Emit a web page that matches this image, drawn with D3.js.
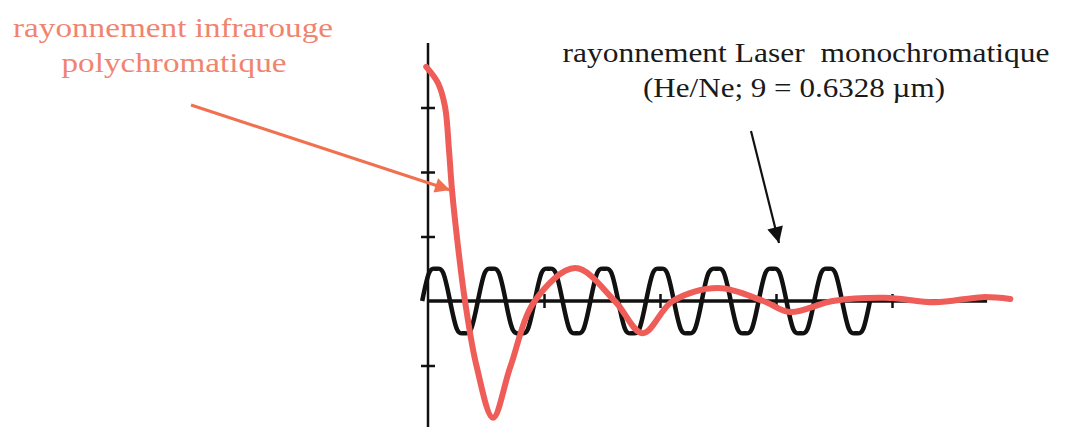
<!DOCTYPE html>
<html>
<head>
<meta charset="utf-8">
<script src="https://cdn.jsdelivr.net/npm/d3@7"></script>
<style>
  html, body { margin: 0; padding: 0; background: #fff; }
  svg { display: block; }
</style>
</head>
<body>
<script>
const width = 1068;
const height = 427;

// interferogram of the polychromatic infrared source
const irX = [-0.015, 0.086, 0.147, 0.181, 0.207, 0.259, 0.319, 0.42, 0.56, 0.71, 0.92, 1.27, 1.61, 1.85, 2.11, 2.5, 2.89, 3.12, 3.49, 3.94, 4.37, 4.78, 5.02];
const irY = [3.63, 3.38, 3.01, 2.34, 1.72, 0.84, 0, -1.02, -1.81, -1.02, 0, 0.51, 0, -0.5, 0, 0.2, 0, -0.17, 0, 0.05, -0.02, 0.06, 0.03];

// He/Ne laser signal: crossings, shoulders, crests and troughs
const laserX = [-0.05, 0.01, 0.07, 0.13, 0.19, 0.25, 0.31, 0.37, 0.43, 0.49, 0.55, 0.61, 0.67, 0.73, 0.8, 0.86,
                0.92, 0.98, 1.04, 1.1, 1.16, 1.22, 1.28, 1.34, 1.4, 1.46, 1.52, 1.58, 1.64, 1.7, 1.76, 1.82,
                1.88, 1.94, 2.0, 2.06, 2.12, 2.18, 2.24, 2.3, 2.36, 2.42, 2.49, 2.55, 2.61, 2.67, 2.73, 2.79,
                2.85, 2.91, 2.97, 3.03, 3.09, 3.15, 3.21, 3.27, 3.33, 3.39, 3.45, 3.51, 3.57, 3.63, 3.69, 3.75, 3.81];
const laserY = [0, 0.44, 0.5, 0.44, 0, -0.44, -0.5, -0.44, 0, 0.44, 0.5, 0.44, 0, -0.44, -0.5, -0.44,
                0, 0.44, 0.5, 0.44, 0, -0.44, -0.5, -0.44, 0, 0.44, 0.5, 0.44, 0, -0.44, -0.5, -0.44,
                0, 0.44, 0.5, 0.44, 0, -0.44, -0.5, -0.44, 0, 0.44, 0.5, 0.44, 0, -0.44, -0.5, -0.44,
                0, 0.44, 0.5, 0.44, 0, -0.44, -0.5, -0.44, 0, 0.44, 0.5, 0.44, 0, -0.44, -0.5, -0.44, 0];

const xTicks = [1, 2, 3, 4];
const yTicks = [-1, 1, 2, 3];

const irLabel = ["rayonnement infrarouge", "polychromatique"];
const laserLabel = ["rayonnement Laser  monochromatique", "(He/Ne; 9 = 0.6328 µm)"];

const red = "#ee5d58";
const salmon = "#f0846f";
const serif = "Liberation Serif";

const svg = d3.select("body")
    .append("svg")
    .attr("width", width)
    .attr("height", height);

const defs = svg.append("defs");
defs.append("marker")
    .attr("id", "headRed")
    .attr("viewBox", "0 0 10 10")
    .attr("refX", 10).attr("refY", 5)
    .attr("markerUnits", "userSpaceOnUse")
    .attr("markerWidth", 18).attr("markerHeight", 15)
    .attr("orient", "auto")
    .append("path").attr("d", "M0,0L10,5L0,10Z").attr("fill", "#f0704f");
defs.append("marker")
    .attr("id", "headBlack")
    .attr("viewBox", "0 0 10 10")
    .attr("refX", 10).attr("refY", 5)
    .attr("markerUnits", "userSpaceOnUse")
    .attr("markerWidth", 18).attr("markerHeight", 16)
    .attr("orient", "auto")
    .append("path").attr("d", "M0,0L10,5L0,10Z").attr("fill", "#111");

const x = d3.scaleLinear().domain([0, 5]).range([428, 1008]);
const y = d3.scaleLinear().domain([-2, 4]).range([430, 43]);

// axes: ticks straddle the axis lines
svg.append("g")
    .attr("transform", `translate(${x(0) + 7}, 0)`)
    .call(d3.axisLeft(y).tickValues(yTicks).tickSize(14).tickFormat(""))
    .call(g => g.select(".domain").remove())
    .call(g => g.selectAll("line").attr("stroke", "#111").attr("stroke-width", 2.5));

svg.append("g")
    .attr("transform", `translate(0, ${y(0) - 7})`)
    .call(d3.axisBottom(x).tickValues(xTicks).tickSize(14).tickFormat(""))
    .call(g => g.select(".domain").remove())
    .call(g => g.selectAll("line").attr("stroke", "#111").attr("stroke-width", 2.5));

svg.append("line")
    .attr("x1", x(0)).attr("x2", x(0))
    .attr("y1", y(4)).attr("y2", height)
    .attr("stroke", "#111").attr("stroke-width", 2.5);

svg.append("line")
    .attr("x1", x(0)).attr("x2", x(4.82))
    .attr("y1", y(0)).attr("y2", y(0))
    .attr("stroke", "#111").attr("stroke-width", 3.5);

// laser sine
const laser = laserX.map((d, i) => ({ x: d, y: laserY[i] }));
svg.append("path")
    .datum(laser)
    .attr("fill", "none")
    .attr("stroke", "#111")
    .attr("stroke-width", 4.5)
    .attr("d", d3.line().x(d => x(d.x)).y(d => y(d.y)).curve(d3.curveNatural));

// infrared interferogram
const ir = irX.map((d, i) => ({ x: d, y: irY[i] }));
svg.append("path")
    .datum(ir)
    .attr("fill", "none")
    .attr("stroke", red)
    .attr("stroke-width", 6)
    .attr("stroke-linecap", "round")
    .attr("stroke-linejoin", "round")
    .attr("d", d3.line().x(d => x(d.x)).y(d => y(d.y)).curve(d3.curveCatmullRom.alpha(0.5)));

// labels
function label(txt, cx, baseline, len, fill) {
  svg.append("text")
      .attr("x", cx).attr("y", baseline)
      .attr("text-anchor", "middle")
      .attr("font-size", 28)
      .attr("fill", fill)
      .attr("textLength", len)
      .attr("lengthAdjust", "spacingAndGlyphs")
      .style("font-family", serif)
      .style("white-space", "pre")
      .text(txt);
}
label(irLabel[0], 173, 37, 320, salmon);
label(irLabel[1], 174, 72, 225, salmon);
label(laserLabel[0], 806, 62, 487, "#1a1a1a");
label(laserLabel[1], 794, 97, 302, "#1a1a1a");

// arrows
svg.append("line")
    .attr("x1", 191).attr("y1", 105).attr("x2", 450).attr("y2", 190)
    .attr("stroke", "#f0704f").attr("stroke-width", 3)
    .attr("marker-end", "url(#headRed)");

svg.append("line")
    .attr("x1", 751).attr("y1", 131).attr("x2", 779).attr("y2", 243)
    .attr("stroke", "#111").attr("stroke-width", 2.2)
    .attr("marker-end", "url(#headBlack)");
</script>
</body>
</html>
